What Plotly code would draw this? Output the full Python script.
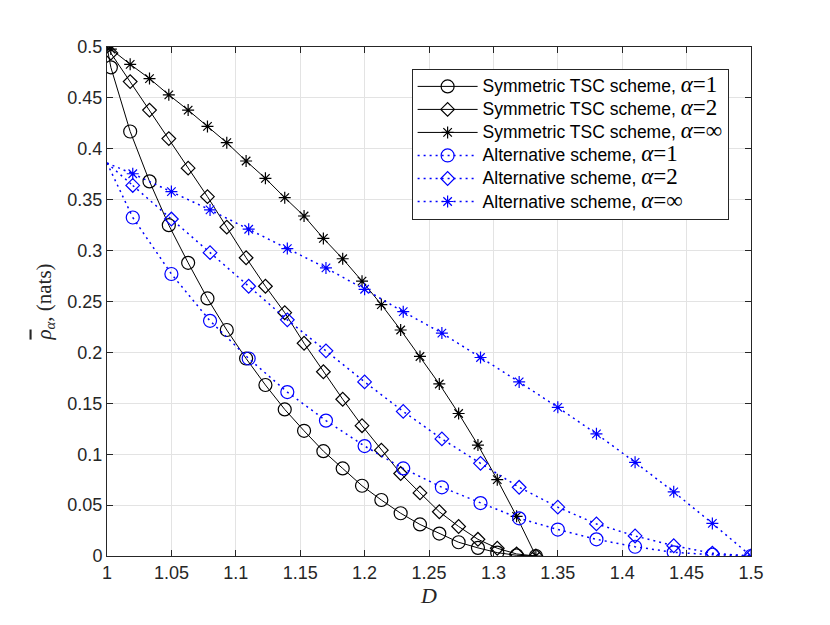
import plotly.graph_objects as go

# symmetric TSC scheme, first point (D=1) is drawn without a marker
D_sym = [1.0, 1.003, 1.018, 1.033, 1.048, 1.063, 1.078, 1.093, 1.108, 1.123, 1.138, 1.153,
         1.168, 1.183, 1.198, 1.213, 1.228, 1.243, 1.258, 1.273, 1.288, 1.303, 1.318, 1.333]
sym_a1 = [0.5, 0.480, 0.417, 0.368, 0.325, 0.288, 0.253, 0.222, 0.194, 0.168, 0.144, 0.123,
          0.103, 0.086, 0.069, 0.055, 0.042, 0.031, 0.022, 0.0135, 0.008, 0.0033, 0.0007, 0.0]
sym_a2 = [0.5, 0.494, 0.466, 0.438, 0.410, 0.381, 0.353, 0.323, 0.293, 0.265, 0.239, 0.209,
          0.181, 0.154, 0.128, 0.104, 0.081, 0.062, 0.0435, 0.029, 0.0164, 0.0076, 0.002, 0.0]
sym_inf = [0.5, 0.498, 0.483, 0.469, 0.453, 0.438, 0.422, 0.406, 0.388, 0.371, 0.352, 0.334,
           0.312, 0.292, 0.270, 0.247, 0.222, 0.196, 0.169, 0.140, 0.109, 0.075, 0.039, 0.0]

# alternative scheme
D_alt = [1.0, 1.02, 1.05, 1.08, 1.11, 1.14, 1.17, 1.20, 1.23, 1.26, 1.29, 1.32, 1.35,
         1.38, 1.41, 1.44, 1.47, 1.50]
alt_a1 = [0.386, 0.3325, 0.277, 0.231, 0.194, 0.161, 0.133, 0.108, 0.086, 0.0675, 0.052,
          0.037, 0.026, 0.0164, 0.0091, 0.0036, 0.0013, 0.0]
alt_a2 = [0.386, 0.364, 0.331, 0.298, 0.265, 0.232, 0.2015, 0.171, 0.142, 0.115, 0.091,
          0.0675, 0.048, 0.0315, 0.0197, 0.0101, 0.0027, 0.0]
alt_inf = [0.386, 0.3755, 0.358, 0.340, 0.321, 0.302, 0.283, 0.262, 0.240, 0.219, 0.195,
           0.171, 0.146, 0.120, 0.092, 0.063, 0.032, 0.0]

xticks = [1, 1.05, 1.1, 1.15, 1.2, 1.25, 1.3, 1.35, 1.4, 1.45, 1.5]
yticks = [0, 0.05, 0.1, 0.15, 0.2, 0.25, 0.3, 0.35, 0.4, 0.45, 0.5]

SERIF = "Liberation Serif"
SANS = "Liberation Sans"


def leg(txt, a):
    # legend row height follows legend font size, so text size is set in the span
    return ('<span style="font-size:17.5px">' + txt +
            '<span style="font-family:Liberation Serif;font-size:23px"><i>α</i>=' + a +
            '</span></span>')


series = [
    (D_sym, sym_a1, leg("Symmetric TSC scheme, ", "1"), "black", "solid", "circle-open", 13),
    (D_sym, sym_a2, leg("Symmetric TSC scheme, ", "2"), "black", "solid", "diamond-open", 10.5),
    (D_sym, sym_inf, leg("Symmetric TSC scheme, ", "∞"), "black", "solid", "asterisk-open", 10),
    (D_alt, alt_a1, leg("Alternative scheme, ", "1"), "#0000ff", "2px,4px", "circle-open", 13),
    (D_alt, alt_a2, leg("Alternative scheme, ", "2"), "#0000ff", "2px,4px", "diamond-open", 10.5),
    (D_alt, alt_inf, leg("Alternative scheme, ", "∞"), "#0000ff", "2px,4px", "asterisk-open", 10),
]

fig = go.Figure()
for xs, ys, name, col, dash, sym, ms in series:
    lw = 1 if dash == "solid" else 1.5
    # lead segment from D=1 (no marker)
    fig.add_trace(go.Scatter(x=xs[:2], y=ys[:2], mode="lines", showlegend=False,
                             line=dict(color=col, width=lw, dash=dash), hoverinfo="skip"))
    fig.add_trace(go.Scatter(x=xs[1:], y=ys[1:], mode="lines+markers", name=name,
                             line=dict(color=col, width=lw, dash=dash),
                             marker=dict(symbol=sym, size=ms, color=col,
                                         line=dict(color=col, width=1.2))))

axis_common = dict(
    showgrid=True, gridcolor="#e3e3e3", gridwidth=1,
    showline=True, linecolor="#262626", linewidth=1, mirror="ticks",
    ticks="inside", ticklen=6, tickcolor="#262626",
    tickfont=dict(family=SANS, size=18, color="#262626"),
    zeroline=False, automargin=False,
)

# page body adds ~8px offset, margins compensate for it
fig.update_layout(
    width=830, height=625,
    margin=dict(l=99, r=87, t=39, b=77),
    paper_bgcolor="white", plot_bgcolor="white",
    xaxis=dict(range=[1, 1.5], tickvals=xticks,
               ticktext=[f"{v:g}" for v in xticks],
               title=dict(text="<i>D</i>", font=dict(family=SERIF, size=22, color="#262626"),
                          standoff=6),
               **axis_common),
    yaxis=dict(range=[0, 0.5], tickvals=yticks,
               ticktext=[f"{v:g}" for v in yticks],
               title=dict(text='<span style="text-decoration:overline"><i>ρ</i></span>'
                               '<sub><i>α</i></sub>, (nats)',
                          font=dict(family=SERIF, size=21, color="#262626"),
                          standoff=10),
               **axis_common),
    legend=dict(x=0.473, y=0.957, xanchor="left", yanchor="top",
                bgcolor="white", bordercolor="#262626", borderwidth=1,
                font=dict(family=SANS, size=15.4, color="black"),
                itemwidth=60, tracegroupgap=0),
    showlegend=True,
)

fig.write_html("out.html")
